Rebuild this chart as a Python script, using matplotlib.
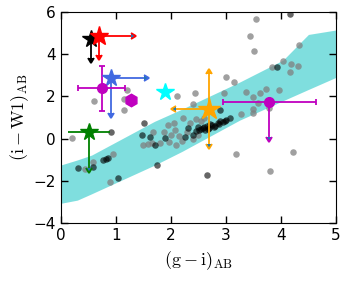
import matplotlib
matplotlib.use('Agg')
import matplotlib.pyplot as plt
import numpy as np

plt.rcParams['mathtext.fontset'] = 'cm'

# colour band
band_x = [0.0, 0.3, 0.56, 1.7, 2.2, 3.25, 4.04, 4.5, 5.0]
band_lo = [-3.05, -2.9, -2.6, -1.25, -0.6, 0.88, 1.8, 2.33, 2.9]
band_hi = [-1.24, -1.0, -0.77, 0.82, 1.4, 2.68, 3.72, 4.93, 5.14]

# comparison sample, light grey points
grey_x = [0.21, 0.61, 1.15, 1.21, 1.15, 1.50, 1.59, 1.66, 1.68, 1.95, 2.07, 2.22,
          2.12, 2.44, 2.40, 2.97, 3.01, 3.14, 3.55, 3.44, 3.51, 4.33, 4.04, 3.83,
          4.19, 4.31, 4.16, 3.37, 3.62, 3.73, 3.97, 3.49, 3.59, 3.49, 3.49, 3.27,
          3.79, 4.22, 3.81, 3.19, 0.44, 0.59, 0.94, 0.89, 1.88, 2.00, 2.15, 2.30,
          2.20, 2.10, 2.40, 2.50, 2.55, 2.35, 2.60, 1.80, 1.97, 2.45, 2.05]
grey_y = [0.02, 1.78, 1.86, 2.30, 1.36, -0.30, -0.26, -0.22, 0.33, 0.65, 0.41, 0.96,
          2.03, 2.17, 1.62, 2.15, 2.90, 2.67, 5.66, 4.85, 4.14, 4.43, 3.67, 3.40,
          3.52, 3.45, 3.14, 2.20, 2.15, 2.33, 2.30, 1.96, 1.67, 1.39, 1.20, 1.15,
          1.44, -0.61, -1.51, -0.72, -1.43, -1.09, -0.72, -2.06, 0.33, 0.20, 0.15, 0.30,
          -0.10, -0.30, 0.00, 0.20, 0.85, 0.75, 1.00, -0.20, -0.15, 0.95, 0.75]

# comparison sample, dark points
dark_x = [4.16, 3.92, 0.92, 1.51, 1.47, 1.62, 0.31, 0.59, 0.77, 0.86, 0.82, 1.04,
          1.75, 2.65, 1.71, 1.89, 2.32, 2.25, 2.45, 2.55, 2.60, 2.65, 2.70, 2.75,
          2.80, 2.85, 2.90, 2.95, 3.00, 2.89, 3.07, 2.50, 2.62, 2.72, 2.40,
          2.58, 2.68, 2.78, 2.88, 2.52, 2.98]
dark_y = [5.89, 3.40, 0.30, 0.73, 0.17, 0.10, -1.37, -1.32, -1.00, -0.93, -0.97, -1.84,
          -1.24, -1.72, -0.30, 0.02, 0.49, 0.09, 0.35, 0.45, 0.55, 0.60, 0.50, 0.65,
          0.60, 0.75, 0.85, 0.80, 0.90, 1.36, 1.00, 0.55, 0.40, 0.70, 0.20,
          0.50, 0.45, 0.55, 0.70, 0.42, 0.85]

fig = plt.figure(figsize=(3.4, 2.81), dpi=100)
ax = fig.add_axes([0.179, 0.205, 0.809, 0.753])

ax.fill_between(band_x, band_lo, band_hi, color='c', alpha=0.5, lw=0, zorder=1)
ax.scatter(grey_x, grey_y, s=22, c='grey', alpha=0.75, lw=0, zorder=2)
ax.scatter(dark_x, dark_y, s=22, c='k', alpha=0.6, lw=0, zorder=2)

kw = dict(lw=1.3, capsize=2.5, capthick=1.3, zorder=4)

# black star: upper limit in colour
ax.errorbar([0.54], [4.70], yerr=[0.9], uplims=True, fmt='*', color='k', ms=13, **kw)
# red star
ax.errorbar([0.70], [4.85], yerr=[0.9], uplims=True, fmt='*', color='r', ms=14, **kw)
ax.errorbar([0.70], [4.85], xerr=[0.58], xlolims=True, fmt='none', ecolor='r', **kw)
# blue star
ax.errorbar([0.92], [2.88], yerr=[1.68], uplims=True, fmt='*', color='royalblue', ms=13, **kw)
ax.errorbar([0.92], [2.88], xerr=[0.59], xlolims=True, fmt='none', ecolor='royalblue', **kw)
# magenta points
ax.errorbar([0.74], [2.38], xerr=[0.43], yerr=[1.05], fmt='o', color='m', ms=7, **kw)
ax.plot([1.27], [1.83], 'h', color='m', ms=9, zorder=4)
ax.errorbar([3.79], [1.75], xerr=[0.85], fmt='o', color='m', ms=7, **kw)
ax.errorbar([3.79], [1.75], yerr=[1.65], uplims=True, fmt='none', ecolor='m', **kw)
# cyan star
ax.plot([1.90], [2.20], '*', color='cyan', ms=13, zorder=4)
# green star
ax.errorbar([0.51], [0.33], xerr=[0.38], fmt='*', color='g', ms=13, capsize=0, lw=1.3, zorder=4)
ax.errorbar([0.51], [0.33], yerr=[1.73], uplims=True, fmt='none', ecolor='g', **kw)
# orange star
ax.errorbar([2.70], [1.39], yerr=[1.65], lolims=True, fmt='*', color='orange', ms=16, **kw)
ax.errorbar([2.70], [1.39], yerr=[1.62], uplims=True, fmt='none', ecolor='orange', **kw)
ax.errorbar([2.70], [1.39], xerr=[0.6], xuplims=True, fmt='none', ecolor='orange', **kw)

ax.set_xlim(0, 5)
ax.set_ylim(-4, 6)
ax.set_xticks([0, 1, 2, 3, 4, 5])
ax.set_yticks([-4, -2, 0, 2, 4, 6])
ax.tick_params(direction='in', top=True, right=True, length=5, width=1, labelsize=11)
ax.set_xlabel(r'$\mathrm{(g-i)_{AB}}$', fontsize=13, labelpad=4)
ax.set_ylabel(r'$\mathrm{(i-W1)_{AB}}$', fontsize=13, labelpad=2)

fig.savefig('out.png', dpi=100)
